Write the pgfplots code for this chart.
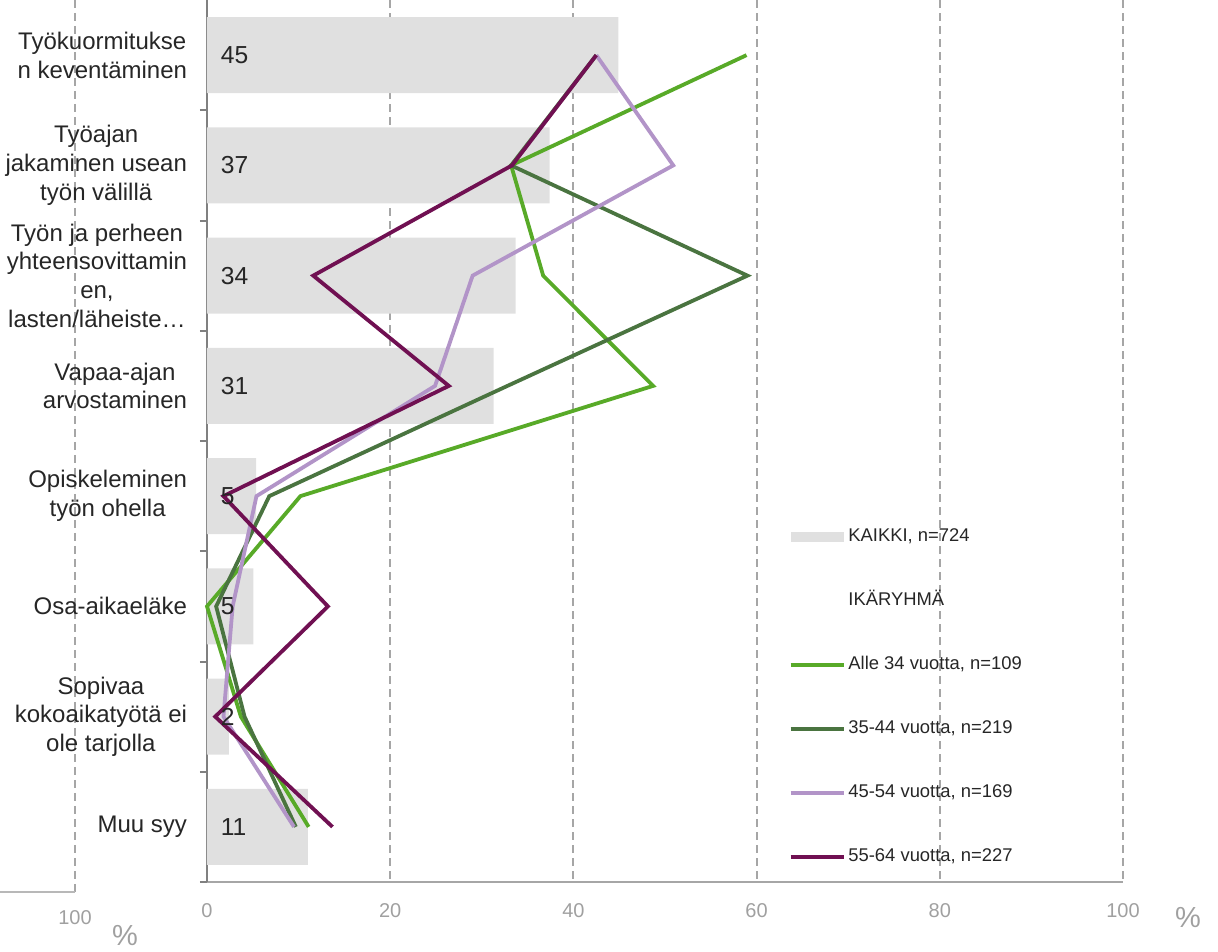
\documentclass[border=0pt]{standalone}
\usepackage{fontspec}
\setmainfont{Liberation Sans}
\usepackage{pgfplots}
\pgfplotsset{compat=1.18}
\definecolor{kgray}{RGB}{224,224,224}
\definecolor{lgreen}{RGB}{88,170,40}
\definecolor{dgreen}{RGB}{74,116,64}
\definecolor{lpurple}{RGB}{178,148,200}
\definecolor{dpurple}{RGB}{112,16,82}
\definecolor{txt}{RGB}{38,38,38}
\definecolor{tgray}{RGB}{160,160,160}
\definecolor{grid}{RGB}{166,166,166}
\definecolor{axgray}{RGB}{128,128,128}
\begin{document}
\begin{tikzpicture}
\useasboundingbox (-103.5pt,-34.5pt) rectangle (505.5pt,441pt);
% left mirrored panel remnants
\draw[grid, line width=1pt, dash pattern=on 4pt off 2.5pt] (-66pt,441pt) -- (-66pt,-5pt);
\draw[grid!80, line width=1pt] (-103.5pt,-5pt) -- (-66pt,-5pt);
\node[text=tgray, font=\fontsize{10}{12}\selectfont] at (-66pt,-18pt) {100};
\node[text=tgray, font=\fontsize{14.5}{16}\selectfont] at (-41pt,-27pt) {\%};
\node[text=tgray, font=\fontsize{14.5}{16}\selectfont] at (490.5pt,-18pt) {\%};
\begin{axis}[
  at={(0,0)}, anchor=south west,
  scale only axis, width=458pt, height=441pt,
  xmin=0, xmax=100, ymin=0.5, ymax=8.5,
  y dir=reverse,
  axis x line*=bottom, axis y line*=left,
  x axis line style={draw=grid, line width=1pt, -},
  y axis line style={draw=axgray, line width=1pt, -},
  xtick={0,20,...,100},
  xmajorgrids,
  major grid style={draw=grid, line width=1pt, dash pattern=on 4pt off 2.5pt},
  major tick length=0pt,
  /pgf/number format/assume math mode=true,
  xticklabel style={font=\fontsize{10}{12}\selectfont, text=tgray, yshift=-7pt},
  ytick={1,...,8},
  yticklabels={{Työkuormitukse\\n keventäminen},
    {Työajan\\jakaminen usean\\työn välillä},
    {Työn ja perheen\\yhteensovittamin\\en,\\lasten/läheiste…},
    {Vapaa-ajan\\arvostaminen},
    {Opiskeleminen\\työn ohella},
    {Osa-aikaeläke},
    {Sopivaa\\kokoaikatyötä ei\\ole tarjolla},
    {Muu syy}},
  yticklabel style={align=center, font=\fontsize{12}{14.4}\selectfont, text=txt, inner sep=0pt, xshift=-9.8pt},
  extra y ticks={1.5,2.5,...,8.5},
  extra y tick labels={},
  extra tick style={major tick length=3.5pt, tick align=outside, tick style={draw=axgray, line width=1pt}},
  clip=false,
  legend style={at={(axis cs:63.45,5.285)}, anchor=north west, draw=none, fill=none,
    inner sep=0pt, font=\fontsize{9.2}{11}\selectfont, text=txt,
    nodes={inner sep=0pt, text height=7pt, text depth=2pt},
    column sep=1.5pt, row sep=23pt},
  legend cell align=left,
  legend image code/.code={\draw[#1] (0pt,0pt) -- (26.5pt,0pt);},
]
\addplot[xbar, bar width=38pt, fill=kgray, draw=none,
  legend image code/.code={\fill[kgray] (0pt,-2.3pt) rectangle (26.5pt,2.3pt);}]
  coordinates {(44.9,1) (37.4,2) (33.7,3) (31.3,4) (5.35,5) (5.06,6) (2.4,7) (11.0,8)};
\addlegendentry{KAIKKI, n=724}
\addlegendimage{empty legend}
\addlegendentry{IKÄRYHMÄ}
\addplot[draw=none, mark=none, forget plot, nodes near coords, point meta=explicit symbolic,
  nodes near coords style={anchor=west, font=\fontsize{12.3}{14}\selectfont, text=txt, xshift=3.4pt}]
  table[meta=lab] {
x y lab
0 1 45
0 2 37
0 3 34
0 4 31
0 5 5
0 6 5
0 7 2
0 8 11
};
\addplot[lgreen, line width=1.9pt] coordinates {(58.9,1) (33.2,2) (36.7,3) (48.7,4) (10.2,5) (0,6) (3.7,7) (11.1,8)};
\addlegendentry{Alle 34 vuotta, n=109}
\addplot[dgreen, line width=1.9pt] coordinates {(42.5,1) (33.2,2) (59.0,3) (32.8,4) (6.8,5) (1.0,6) (4.1,7) (9.7,8)};
\addlegendentry{35-44 vuotta, n=219}
\addplot[lpurple, line width=1.9pt] coordinates {(42.5,1) (50.9,2) (29.0,3) (24.9,4) (5.4,5) (2.8,6) (1.8,7) (9.5,8)};
\addlegendentry{45-54 vuotta, n=169}
\addplot[dpurple, line width=1.9pt] coordinates {(42.5,1) (33.3,2) (11.6,3) (26.4,4) (1.8,5) (13.2,6) (0.9,7) (13.7,8)};
\addlegendentry{55-64 vuotta, n=227}
\end{axis}
\end{tikzpicture}
\end{document}
